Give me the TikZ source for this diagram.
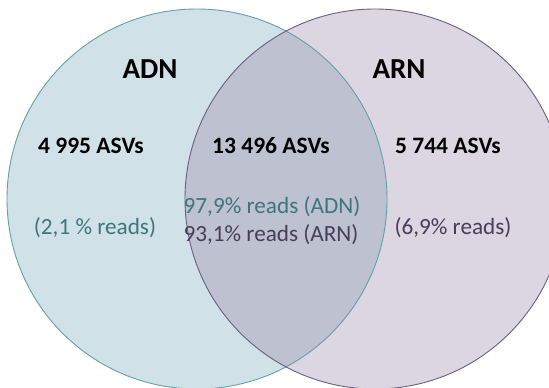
\documentclass[tikz,border=0pt]{standalone}
\usepackage{fontspec}
\setmainfont{Carlito}
\definecolor{lfill}{RGB}{208,225,231}
\definecolor{rfill}{RGB}{220,213,226}
\definecolor{ofill}{RGB}{189,193,208}
\definecolor{lline}{RGB}{100,160,170}
\definecolor{rline}{RGB}{105,95,128}
\definecolor{tealtext}{RGB}{62,118,124}
\definecolor{purpletext}{RGB}{72,62,88}
\tikzset{
  title/.style={font=\fontsize{29}{32}\selectfont\bfseries, text=black, inner sep=0pt},
  count/.style={font=\fontsize{23.5}{27}\selectfont\bfseries, text=black, inner sep=0pt},
  reads/.style={font=\fontsize{23.2}{27}\selectfont, inner sep=0pt},
}
\begin{document}
\begin{tikzpicture}[x=1pt,y=-1pt]
\useasboundingbox (0,0) rectangle (549,388);
\coordinate (cl) at (197,199);
\coordinate (cr) at (375,199);
\fill[lfill] (cl) circle [radius=190pt];
\fill[rfill] (cr) circle [radius=190pt];
\begin{scope}
  \clip (cl) circle [radius=190pt];
  \fill[ofill] (cr) circle [radius=190pt];
\end{scope}
\draw[lline, line width=0.9pt] (cl) circle [radius=190pt];
\draw[rline, line width=0.9pt] (cr) circle [radius=190pt];
\node[title] (adn) at (150,69) {ADN};
\node[title] (arn) at (399,69) {ARN};
\node[count] (c1) at (91,146) {4 995 ASVs};
\node[count] (c2) at (271,146) {13 496 ASVs};
\node[count] (c3) at (448,146) {5 744 ASVs};
\node[reads, text=tealtext] (r1) at (95,228) {(2,1 \% reads)};
\node[reads, text=tealtext] (r2) at (272,207) {97,9\% reads (ADN)};
\node[reads, text=purpletext] (r3) at (271,235) {93,1\% reads (ARN)};
\node[reads, text=purpletext] (r4) at (453,228) {(6,9\% reads)};
\end{tikzpicture}
\end{document}
